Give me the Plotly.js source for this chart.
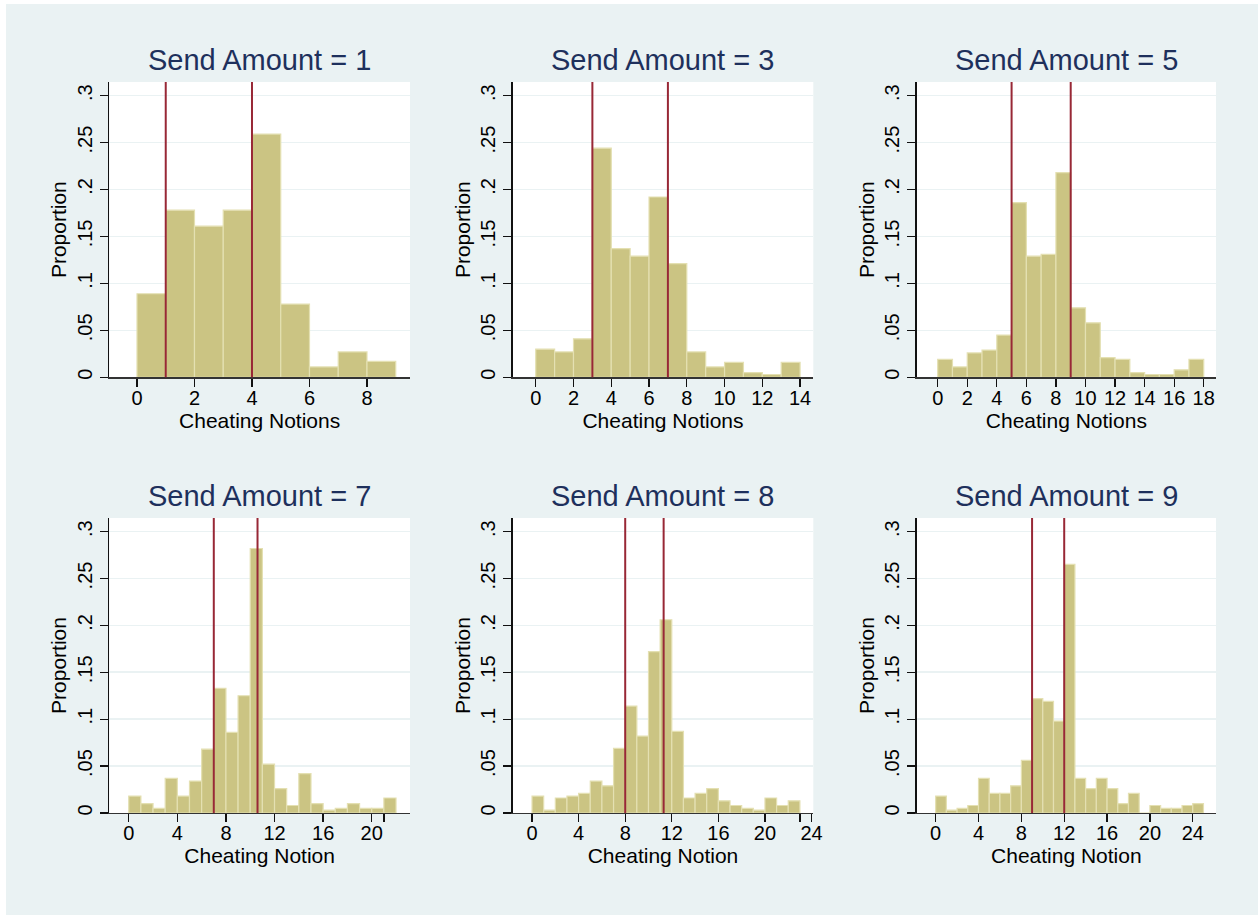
<!DOCTYPE html>
<html><head><meta charset="utf-8">
<script src="https://cdn.plot.ly/plotly-3.0.1.min.js"></script>
<style>html,body{margin:0;padding:0;background:#fff;overflow:hidden}</style>
</head><body><div id="chart" style="width:1258px;height:915px"></div>
<script>
// ---------------- data ----------------
const sendAmounts = [1, 3, 5, 7, 8, 9];
const xAxisTitles = ["Cheating Notions", "Cheating Notions", "Cheating Notions",
                     "Cheating Notion", "Cheating Notion", "Cheating Notion"];
const binStart = [0, 0, 0, 0, 0, 0];
const binWidth = [1, 1, 1, 1, 1, 1];

const propSend1 = [0.089, 0.178, 0.161, 0.178, 0.259, 0.078, 0.011, 0.027, 0.017];
const propSend3 = [0.030, 0.027, 0.041, 0.244, 0.137, 0.129, 0.192, 0.121, 0.027,
                   0.011, 0.016, 0.005, 0.003, 0.016];
const propSend5 = [0.019, 0.011, 0.026, 0.029, 0.045, 0.186, 0.129, 0.131, 0.218,
                   0.074, 0.058, 0.021, 0.019, 0.005, 0.003, 0.003, 0.008, 0.019];
const propSend7 = [0.018, 0.010, 0.005, 0.037, 0.018, 0.034, 0.068, 0.133, 0.086,
                   0.125, 0.282, 0.052, 0.026, 0.008, 0.042, 0.010, 0.003, 0.005,
                   0.010, 0.005, 0.005, 0.016];
const propSend8 = [0.018, 0.003, 0.016, 0.018, 0.021, 0.034, 0.029, 0.069, 0.114,
                   0.082, 0.172, 0.206, 0.087, 0.016, 0.021, 0.026, 0.013, 0.008,
                   0.005, 0.003, 0.016, 0.008, 0.013];
const propSend9 = [0.018, 0.003, 0.005, 0.008, 0.037, 0.021, 0.021, 0.029, 0.056,
                   0.122, 0.119, 0.098, 0.265, 0.037, 0.026, 0.037, 0.026, 0.010,
                   0.021, 0.000, 0.008, 0.005, 0.005, 0.008, 0.010];
const proportions = [propSend1, propSend3, propSend5, propSend7, propSend8, propSend9];

const refLineLow  = [1, 3, 5, 7, 8, 9];
const refLineHigh = [4, 7, 9, 10.6, 11.3, 12];

const xTickVals = [
  [0, 2, 4, 6, 8],
  [0, 2, 4, 6, 8, 10, 12, 14],
  [0, 2, 4, 6, 8, 10, 12, 14, 16, 18],
  [0, 4, 8, 12, 16, 20, 21],
  [0, 4, 8, 12, 16, 20, 23, 24],
  [0, 4, 8, 12, 16, 20, 24]
];
const xTickText = [
  ["0", "2", "4", "6", "8"],
  ["0", "2", "4", "6", "8", "10", "12", "14"],
  ["0", "2", "4", "6", "8", "10", "12", "14", "16", "18"],
  ["0", "4", "8", "12", "16", "20", ""],
  ["0", "4", "8", "12", "16", "20", "", "24"],
  ["0", "4", "8", "12", "16", "20", "24"]
];
const yTickVals = [0, 0.05, 0.1, 0.15, 0.2, 0.25, 0.3];
const yTickText = ["0", ".05", ".1", ".15", ".2", ".25", ".3"];

// ---------------- layout geometry ----------------
const W = 1258, H = 915;
const colPx = [[109.3, 410], [512.7, 813.3], [916.7, 1216]];
const rowPx = [[82, 377.3], [518, 813]];
const xRanges = [[-0.963, 9.496], [-1.22, 14.70], [-1.42, 18.83],
                 [-1.60, 23.15], [-1.66, 24.15], [-1.77, 26.17]];
const yRange = [0, 0.3145];

const BG = "#EAF2F3";
const BAR = "rgb(203,196,131)";
const BAR_EDGE = "rgb(228,224,178)";
const REF = "rgb(152,40,54)";
const TITLE = "rgb(30,48,92)";
const FONT = "Liberation Sans, Arial, sans-serif";

const traces = [];
const layout = {
  width: W, height: H,
  margin: {l: 0, r: 0, t: 0, b: 0},
  paper_bgcolor: BG,
  plot_bgcolor: "#ffffff",
  showlegend: false,
  font: {family: FONT, color: "#000", size: 20},
  annotations: [],
  shapes: []
};

for (let i = 0; i < 6; i++) {
  const r = Math.floor(i / 3), c = i % 3;
  const sfx = i === 0 ? "" : String(i + 1);
  const xa = "xaxis" + sfx, ya = "yaxis" + sfx;
  const xr = "x" + sfx, yr = "y" + sfx;
  const vals = proportions[i];
  const centers = vals.map((_, k) => binStart[i] + binWidth[i] * (k + 0.5));
  traces.push({
    type: "bar", x: centers, y: vals, width: binWidth[i],
    xaxis: xr, yaxis: yr,
    marker: {color: BAR, line: {color: BAR_EDGE, width: 1.2}},
    hoverinfo: "x+y"
  });
  const dx = [colPx[c][0] / W, colPx[c][1] / W];
  const dy = [1 - rowPx[r][1] / H, 1 - rowPx[r][0] / H];
  layout[xa] = {
    domain: dx, anchor: yr, range: xRanges[i],
    tickmode: "array", tickvals: xTickVals[i], ticktext: xTickText[i],
    ticks: "outside", ticklen: 8, tickwidth: 1.3, tickcolor: "#111",
    ticklabelstandoff: -6,
    showline: true, linecolor: "#333", linewidth: 1.3,
    showgrid: false, zeroline: false, fixedrange: true,
    tickfont: {size: 20, color: "#000"},
    title: {text: xAxisTitles[i], font: {size: 21, color: "#000"}, standoff: 4}
  };
  layout[ya] = {
    domain: dy, anchor: xr, range: yRange,
    tickmode: "array", tickvals: yTickVals, ticktext: yTickText,
    tickangle: -90,
    ticks: "outside", ticklen: 8, tickwidth: 1.3, tickcolor: "#111",
    showline: true, linecolor: "#111", linewidth: 1.3,
    showgrid: true, gridcolor: BG, gridwidth: 1.6,
    zeroline: false, fixedrange: true,
    tickfont: {size: 20, color: "#000"},
    title: {text: "Proportion", font: {size: 21, color: "#000"}, standoff: 1}
  };
  layout.annotations.push({
    xref: "paper", yref: "paper",
    x: (dx[0] + dx[1]) / 2, y: 1 - (r === 0 ? 60 : 496) / H,
    xanchor: "center", yanchor: "middle", showarrow: false,
    text: "Send Amount = " + sendAmounts[i],
    font: {size: 29, color: TITLE, family: FONT}
  });
  [refLineLow[i], refLineHigh[i]].forEach(v => {
    layout.shapes.push({
      type: "line", xref: xr, yref: yr + " domain",
      x0: v, x1: v, y0: 0, y1: 1,
      line: {color: REF, width: 2}, layer: "above"
    });
  });
}
// thin white border of the exported graph
layout.shapes.push({type: "rect", xref: "paper", yref: "paper", x0: 0, x1: 6 / W, y0: 0, y1: 1,
  line: {width: 0}, fillcolor: "#fff", layer: "above"});
layout.shapes.push({type: "rect", xref: "paper", yref: "paper", x0: 0, x1: 1, y0: 1 - 4 / H, y1: 1,
  line: {width: 0}, fillcolor: "#fff", layer: "above"});

Plotly.newPlot("chart", traces, layout, {displayModeBar: false, staticPlot: true});
</script>
</body></html>
